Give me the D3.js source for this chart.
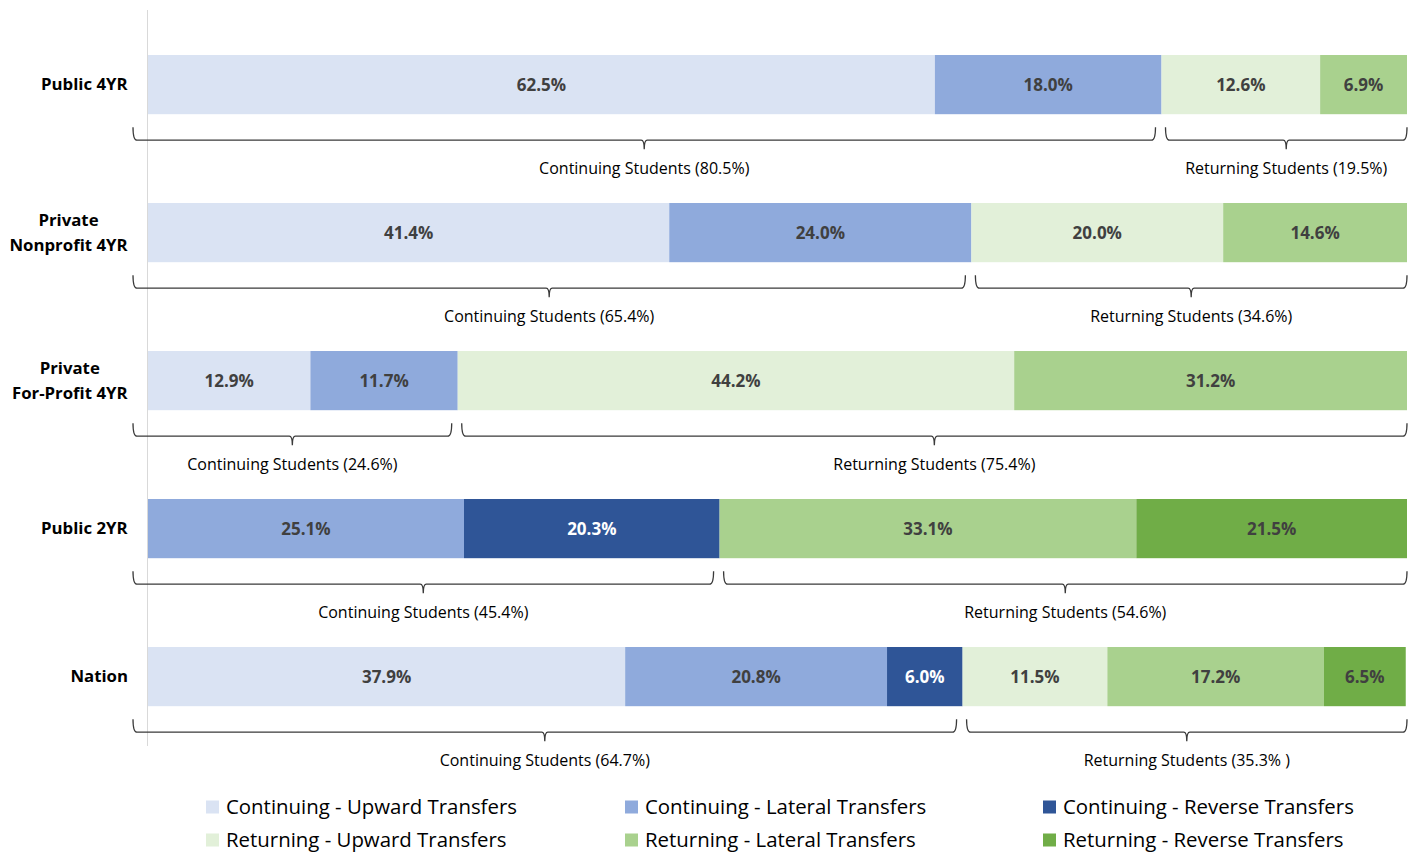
<!DOCTYPE html>
<html>
<head>
<meta charset="utf-8">
<script src="https://cdn.jsdelivr.net/npm/d3@7"></script>
<style>
  body { margin: 0; background: #fff; }
  svg text { font-family: "Open Sans", Lato, sans-serif; }
</style>
</head>
<body>
<script>
// rows, top to bottom
var categories = ["Public 4YR", "Private\nNonprofit 4YR", "Private\nFor-Profit 4YR", "Public 2YR", "Nation"];
var seriesNames = ["Continuing - Upward Transfers", "Continuing - Lateral Transfers", "Continuing - Reverse Transfers",
                   "Returning - Upward Transfers", "Returning - Lateral Transfers", "Returning - Reverse Transfers"];
var seriesColors = ["#dae3f3", "#8faadc", "#2f5597", "#e2f0d9", "#a9d18e", "#70ad47"];
// percent values per row, same order as seriesNames
var contUpward  = [62.5, 41.4, 12.9, 0,    37.9];
var contLateral = [18.0, 24.0, 11.7, 25.1, 20.8];
var contReverse = [0,    0,    0,    20.3, 6.0];
var retUpward   = [12.6, 20.0, 44.2, 0,    11.5];
var retLateral  = [6.9,  14.6, 31.2, 33.1, 17.2];
var retReverse  = [0,    0,    0,    21.5, 6.5];
var contTotals  = ["80.5%", "65.4%", "24.6%", "45.4%", "64.7%"];
var retTotals   = ["19.5%", "34.6%", "75.4%", "54.6%", "35.3% "];

var W = 1418, H = 852;
var svg = d3.select("body").append("svg").attr("width", W).attr("height", H);

var x = d3.scaleLinear().domain([0, 100]).range([148, 1407]);
var y = d3.scaleBand().domain(categories).range([55, 706.2]).paddingInner(0.6).paddingOuter(0);

var series = [contUpward, contLateral, contReverse, retUpward, retLateral, retReverse];

// axis line on the left
svg.append("line")
    .attr("x1", x(0) - 0.5).attr("x2", x(0) - 0.5)
    .attr("y1", 10).attr("y2", 746)
    .attr("stroke", "#d9d9d9").attr("stroke-width", 1);

categories.forEach(function(cat, i) {
    var g = svg.append("g");
    var acc = 0;
    var segs = series.map(function(s, k) {
        var d = {k: k, v: s[i], x0: acc};
        acc += s[i];
        return d;
    }).filter(function(d) { return d.v > 0; });

    g.selectAll("rect").data(segs).enter().append("rect")
        .attr("x", function(d) { return x(d.x0); })
        .attr("width", function(d) { return x(d.x0 + d.v) - x(d.x0); })
        .attr("y", y(cat))
        .attr("height", y.bandwidth())
        .attr("fill", function(d) { return seriesColors[d.k]; });

    g.selectAll("text.val").data(segs).enter().append("text")
        .attr("class", "val")
        .attr("x", function(d) { return x(d.x0 + d.v / 2); })
        .attr("y", y(cat) + y.bandwidth() / 2)
        .attr("dy", "0.35em")
        .attr("text-anchor", "middle")
        .attr("font-size", 17).attr("font-weight", "bold")
        .attr("fill", function(d) { return d.k == 2 ? "#ffffff" : "#404040"; })
        .text(function(d) { return d.v.toFixed(1) + "%"; });

    // category label (multi-line lines centered, block right aligned)
    var lines = cat.split("\n");
    var lab = g.append("text")
        .attr("font-size", 16.8).attr("font-weight", "bold").attr("fill", "#000")
        .attr("text-anchor", "middle");
    var cy = y(cat) + y.bandwidth() / 2;
    lines.forEach(function(l, j) {
        lab.append("tspan")
            .attr("x", 0)
            .attr("y", cy + (j - (lines.length - 1) / 2) * 25)
            .attr("dy", "0.35em")
            .text(l);
    });
    var bw = lab.node().getBBox().width;
    lab.selectAll("tspan").attr("x", 128 - bw / 2);

    // braces
    var cont = contUpward[i] + contLateral[i] + contReverse[i];
    var bot = y(cat) + y.bandwidth();
    var braces = [
        {x0: x(0) - 15, x1: x(cont) - 6, label: "Continuing Students (" + contTotals[i] + ")"},
        {x0: x(cont) + 4, x1: x(100), label: "Returning Students (" + retTotals[i] + ")"}
    ];
    braces.forEach(function(b) {
        var m = (b.x0 + b.x1) / 2, yt = bot + 13, yl = bot + 26, ym = bot + 35;
        var p = d3.path();
        p.moveTo(b.x0, yt);
        p.quadraticCurveTo(b.x0, yl, b.x0 + 4, yl);
        p.lineTo(m - 3, yl);
        p.quadraticCurveTo(m, yl, m, ym);
        p.quadraticCurveTo(m, yl, m + 3, yl);
        p.lineTo(b.x1 - 4, yl);
        p.quadraticCurveTo(b.x1, yl, b.x1, yt);
        g.append("path").attr("d", p.toString())
            .attr("fill", "none").attr("stroke", "#3a3a3a").attr("stroke-width", 1.3);
        g.append("text")
            .attr("x", m).attr("y", bot + 54).attr("dy", "0.35em")
            .attr("text-anchor", "middle")
            .attr("font-size", 16).attr("fill", "#000")
            .text(b.label);
    });
});

// legend, 3 columns x 2 rows
var legX = [206, 625, 1043], legY = [807, 840];
var leg = svg.append("g");
seriesNames.forEach(function(n, k) {
    var col = k % 3, row = Math.floor(k / 3);
    var gi = leg.append("g").attr("transform", "translate(" + legX[col] + "," + legY[row] + ")");
    gi.append("rect").attr("x", 0).attr("y", -6.5).attr("width", 13).attr("height", 13)
        .attr("fill", seriesColors[k]);
    gi.append("text").attr("x", 20).attr("dy", "0.35em")
        .attr("font-size", 20.4).attr("fill", "#000")
        .text(n);
});
</script>
</body>
</html>
